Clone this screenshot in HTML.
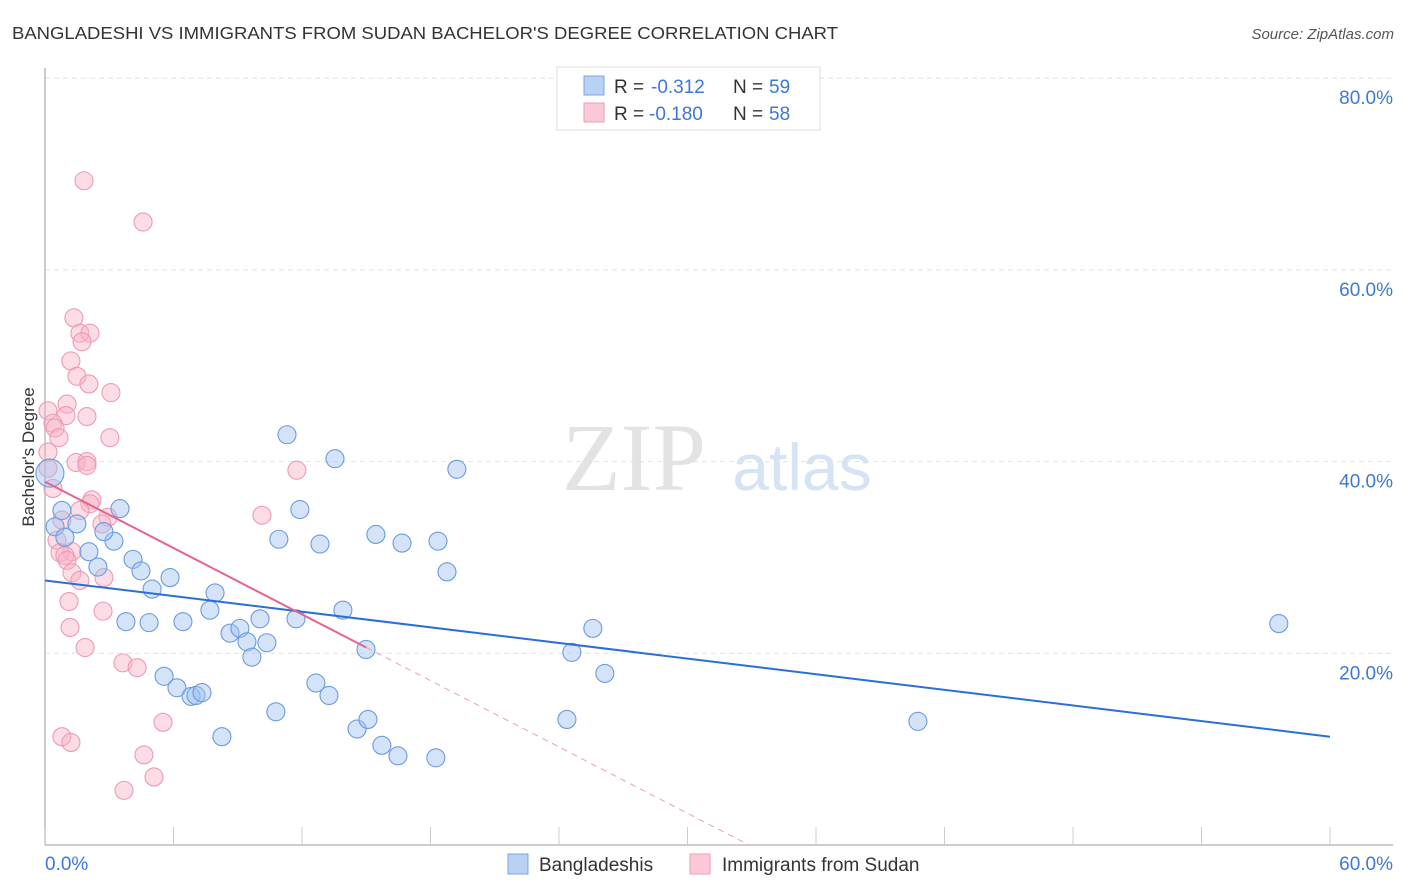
<!DOCTYPE html>
<html><head><meta charset="utf-8">
<style>
body{margin:0;background:#fff;font-family:"Liberation Sans",sans-serif;}
svg{display:block}
</style></head>
<body>
<svg id="chart" width="1406" height="892" xmlns="http://www.w3.org/2000/svg">
<text x="12" y="39" font-size="17.5" fill="#333" textLength="826" lengthAdjust="spacingAndGlyphs">BANGLADESHI VS IMMIGRANTS FROM SUDAN BACHELOR'S DEGREE CORRELATION CHART</text>
<text x="1394" y="39" font-size="15" fill="#555" font-style="italic" text-anchor="end">Source: ZipAtlas.com</text>
<text x="634" y="490" font-size="96" fill="#e3e3e3" font-family="Liberation Serif,serif" text-anchor="middle">ZIP</text>
<text x="802" y="490" font-size="66" fill="#d6e3f5" text-anchor="middle">atlas</text>
<g id="grid"></g>
<g id="axes"></g>
<g id="marks"></g>
<text transform="translate(34,457) rotate(-90)" font-size="17" fill="#333" text-anchor="middle">Bachelor's Degree</text>
<g>
<rect x="557" y="67" width="263" height="63" fill="#fff" stroke="#ddd"/>
<rect x="584" y="76" width="20" height="19" fill="#b9d1f3" stroke="#7aa5e6"/>
<rect x="584" y="103" width="20" height="19" fill="#fbc8d6" stroke="#ee9bb3"/>
<text x="614" y="93" font-size="19" fill="#333">R =</text>
<text x="651" y="93" font-size="19" fill="#3b78d8">-0.312</text>
<text x="733" y="93" font-size="19" fill="#333">N =</text>
<text x="769" y="93" font-size="19" fill="#3b78d8">59</text>
<text x="614" y="120" font-size="19" fill="#333">R =</text>
<text x="649" y="120" font-size="19" fill="#3b78d8">-0.180</text>
<text x="733" y="120" font-size="19" fill="#333">N =</text>
<text x="769" y="120" font-size="19" fill="#3b78d8">58</text>
</g>
<g>
<rect x="508" y="854" width="20" height="20" fill="#b9d1f3" stroke="#7aa5e6"/>
<text x="539" y="871" font-size="19" fill="#333">Bangladeshis</text>
<rect x="690" y="854" width="20" height="20" fill="#fbc8d6" stroke="#ee9bb3"/>
<text x="722" y="871" font-size="19" fill="#333">Immigrants from Sudan</text>
</g>
</svg>
<script>
const xTicks=[0,6,12,18,24,30,36,42,48,54,60];
const yTicks=[20,40,60,80];
const yTickLabels=["20.0%","40.0%","60.0%","80.0%"];
const blueX=[0.47,0.79,0.93,1.49,2.05,2.47,3.22,3.5,2.75,4.11,4.48,5.0,5.84,3.78,4.86,6.44,5.56,6.16,6.82,7.05,7.33,7.7,7.94,8.26,8.64,9.1,9.43,9.66,10.04,10.36,10.78,10.92,11.3,11.72,11.9,12.65,12.84,13.26,13.54,13.91,14.57,14.99,15.08,15.45,15.73,16.48,16.67,18.25,18.35,18.77,19.23,24.37,24.6,25.58,26.14,40.76,57.61,0.23];
const blueY=[33.2,34.9,32.1,33.5,30.6,29.0,31.7,35.1,32.7,29.8,28.6,26.7,27.9,23.3,23.2,23.3,17.6,16.4,15.5,15.6,15.9,24.5,26.3,11.3,22.1,22.6,21.2,19.6,23.6,21.1,13.9,31.9,42.8,23.6,35.0,16.9,31.4,15.6,40.3,24.5,12.1,20.4,13.1,32.4,10.4,9.3,31.5,9.1,31.7,28.5,39.2,13.1,20.1,22.6,17.9,12.9,23.1,38.8];
const pinkX=[1.82,4.58,1.35,1.63,2.1,1.73,1.21,1.49,2.05,3.08,1.03,0.14,0.98,1.96,0.37,0.47,0.65,3.03,0.14,1.45,1.96,1.96,11.76,0.14,0.37,2.19,2.1,1.63,10.13,2.94,0.79,2.66,0.56,1.26,0.7,0.93,1.03,1.26,1.63,2.75,1.12,2.71,1.17,1.87,3.64,4.3,5.51,0.79,1.21,4.62,5.09,3.69];
const pinkY=[69.3,65.0,55.0,53.4,53.4,52.5,50.5,48.9,48.1,47.2,46.0,45.3,44.8,44.7,44.0,43.5,42.5,42.5,41.0,39.9,40.0,39.6,39.1,39.3,37.2,36.0,35.6,34.9,34.4,34.2,33.9,33.5,31.8,30.6,30.5,30.2,29.7,28.4,27.6,27.9,25.4,24.4,22.7,20.6,19.0,18.5,12.8,11.3,10.7,9.4,7.1,5.7];
const blueTrend=[27.6,-0.2717];
const pinkTrend=[37.9,-1.153];
const pinkSolidEnd=15;
const X0=45,X1=1330,Y0=845,YS=9.585;
const sx=v=>X0+v*(X1-X0)/60, sy=v=>Y0-v*YS;
const NS="http://www.w3.org/2000/svg";
function mk(tag,attrs,parent){const e=document.createElementNS(NS,tag);for(const k in attrs)e.setAttribute(k,attrs[k]);parent.appendChild(e);return e;}
const grid=document.getElementById('grid'),axes=document.getElementById('axes'),marks=document.getElementById('marks');
yTicks.forEach((t,i)=>{
 const l=mk('line',{x1:X0,x2:1393,y1:sy(t),y2:sy(t),stroke:'#e2e2e2','stroke-dasharray':'5,4'},grid);
 
 
 const tx=mk('text',{x:1393,y:sy(t)+26,'font-size':19,fill:'#3b78d8','text-anchor':'end'},axes);
 tx.textContent=yTickLabels[i];
 
 
});
const ax=mk('line',{x1:X0,x2:1393,y1:Y0,y2:Y0,stroke:'#bbb','stroke-width':1.5},axes);


const ay=mk('line',{x1:X0,x2:X0,y1:68,y2:Y0,stroke:'#bbb','stroke-width':1.5},axes);


xTicks.forEach(t=>{
 const l=mk('line',{x1:sx(t),x2:sx(t),y1:827,y2:Y0,stroke:'#ccc'},axes);
 
 
});
const xl0=mk('text',{x:45,y:870,'font-size':19,fill:'#3b78d8'},axes);xl0.textContent='0.0%';


const xl1=mk('text',{x:1393,y:870,'font-size':19,fill:'#3b78d8','text-anchor':'end'},axes);xl1.textContent='60.0%';


pinkX.forEach((x,i)=>{
 const c=mk('circle',{cx:sx(x),cy:sy(pinkY[i]),r:9,fill:'rgba(248,178,198,0.45)',stroke:'#ee9ab3','stroke-width':1.1},marks);
 
 
});
blueX.forEach((x,i)=>{
 const big=i===blueX.length-1;
 const c=mk('circle',{cx:sx(x),cy:sy(blueY[i]),r:big?14:9,fill:'rgba(160,194,240,0.45)',stroke:'#6a9be0','stroke-width':1.1},marks);
 
 
});
const bl=mk('line',{x1:sx(0),y1:sy(blueTrend[0]),x2:sx(60),y2:sy(blueTrend[0]+60*blueTrend[1]),stroke:'#2a6fd6','stroke-width':2},marks);


const pl=mk('line',{x1:sx(0),y1:sy(pinkTrend[0]),x2:sx(pinkSolidEnd),y2:sy(pinkTrend[0]+pinkSolidEnd*pinkTrend[1]),stroke:'#e8628e','stroke-width':2},marks);


const xEnd=-pinkTrend[0]/pinkTrend[1];
const pd=mk('line',{x1:sx(pinkSolidEnd),y1:sy(pinkTrend[0]+pinkSolidEnd*pinkTrend[1]),x2:sx(xEnd),y2:sy(0),stroke:'#e8a0b8','stroke-width':1,'stroke-dasharray':'6,5'},marks);


</script>
</body></html>
